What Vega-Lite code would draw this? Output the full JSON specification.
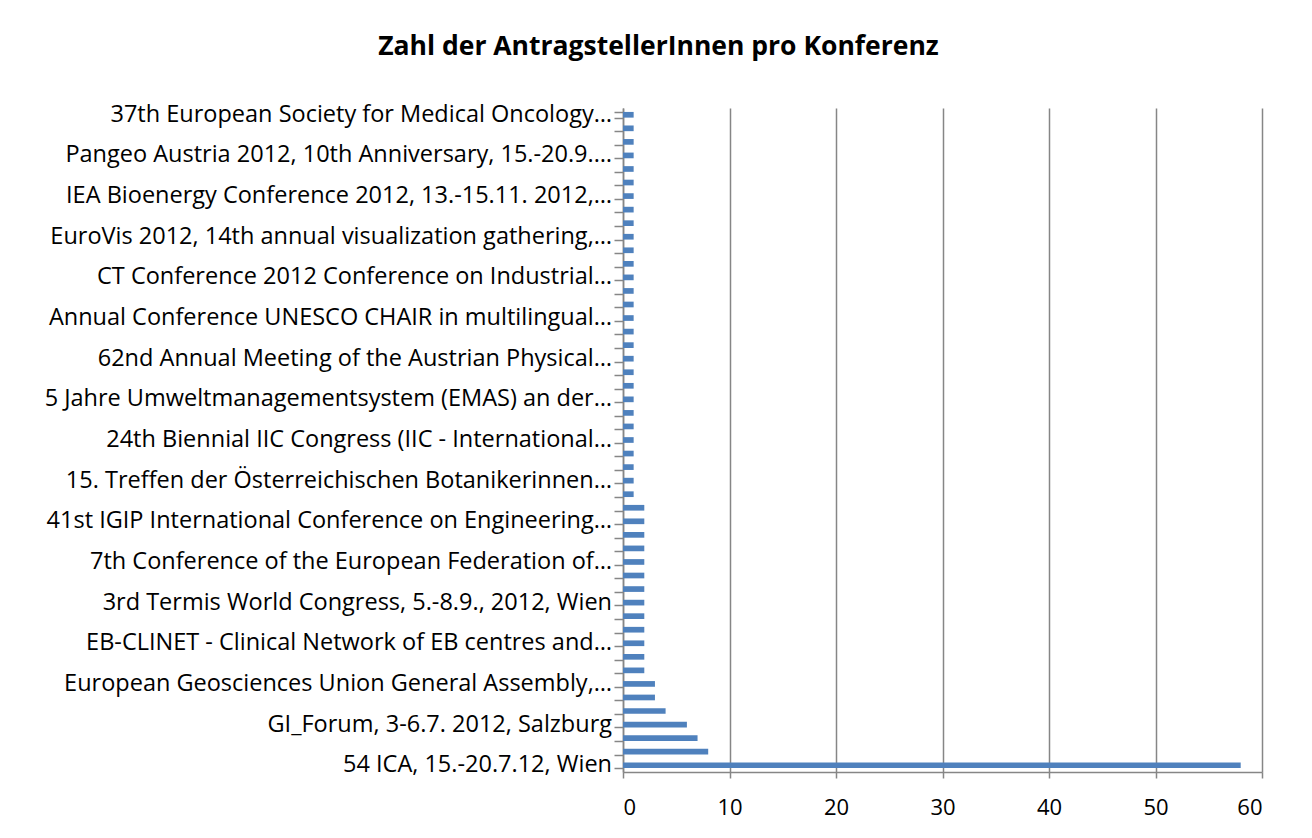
{
  "$schema": "https://vega.github.io/schema/vega-lite/v6.json",
  "width": 639,
  "height": 664,
  "autosize": {"type": "none"},
  "padding": {"left": 623, "top": 108, "right": 50, "bottom": 66},
  "background": "white",
  "title": {
    "text": "Zahl der AntragstellerInnen pro Konferenz",
    "font": "Open Sans",
    "fontSize": 26.5,
    "fontWeight": "bold",
    "color": "#000000",
    "anchor": "middle",
    "frame": "group",
    "dx": -284,
    "offset": 42
  },
  "config": {
    "view": {"stroke": null},
    "font": "Open Sans"
  },
  "data": {
    "values": [
      {"rang": 1, "konferenz": "54 ICA, 15.-20.7.12, Wien", "anzahl": 58},
      {"rang": 2, "konferenz": "", "anzahl": 8},
      {"rang": 3, "konferenz": "", "anzahl": 7},
      {"rang": 4, "konferenz": "GI_Forum, 3-6.7. 2012, Salzburg", "anzahl": 6},
      {"rang": 5, "konferenz": "", "anzahl": 4},
      {"rang": 6, "konferenz": "", "anzahl": 3},
      {"rang": 7, "konferenz": "European Geosciences Union General Assembly,…", "anzahl": 3},
      {"rang": 8, "konferenz": "", "anzahl": 2},
      {"rang": 9, "konferenz": "", "anzahl": 2},
      {"rang": 10, "konferenz": "EB-CLINET - Clinical Network of EB centres and…", "anzahl": 2},
      {"rang": 11, "konferenz": "", "anzahl": 2},
      {"rang": 12, "konferenz": "", "anzahl": 2},
      {"rang": 13, "konferenz": "3rd Termis World Congress, 5.-8.9., 2012, Wien", "anzahl": 2},
      {"rang": 14, "konferenz": "", "anzahl": 2},
      {"rang": 15, "konferenz": "", "anzahl": 2},
      {"rang": 16, "konferenz": "7th Conference of the European Federation of…", "anzahl": 2},
      {"rang": 17, "konferenz": "", "anzahl": 2},
      {"rang": 18, "konferenz": "", "anzahl": 2},
      {"rang": 19, "konferenz": "41st IGIP International Conference on Engineering…", "anzahl": 2},
      {"rang": 20, "konferenz": "", "anzahl": 2},
      {"rang": 21, "konferenz": "", "anzahl": 1},
      {"rang": 22, "konferenz": "15. Treffen  der Österreichischen Botanikerinnen…", "anzahl": 1},
      {"rang": 23, "konferenz": "", "anzahl": 1},
      {"rang": 24, "konferenz": "", "anzahl": 1},
      {"rang": 25, "konferenz": "24th Biennial IIC Congress (IIC - International…", "anzahl": 1},
      {"rang": 26, "konferenz": "", "anzahl": 1},
      {"rang": 27, "konferenz": "", "anzahl": 1},
      {"rang": 28, "konferenz": "5 Jahre Umweltmanagementsystem (EMAS) an der…", "anzahl": 1},
      {"rang": 29, "konferenz": "", "anzahl": 1},
      {"rang": 30, "konferenz": "", "anzahl": 1},
      {"rang": 31, "konferenz": "62nd Annual Meeting of the Austrian Physical…", "anzahl": 1},
      {"rang": 32, "konferenz": "", "anzahl": 1},
      {"rang": 33, "konferenz": "", "anzahl": 1},
      {"rang": 34, "konferenz": "Annual Conference  UNESCO CHAIR in multilingual…", "anzahl": 1},
      {"rang": 35, "konferenz": "", "anzahl": 1},
      {"rang": 36, "konferenz": "", "anzahl": 1},
      {"rang": 37, "konferenz": "CT Conference  2012 Conference on Industrial…", "anzahl": 1},
      {"rang": 38, "konferenz": "", "anzahl": 1},
      {"rang": 39, "konferenz": "", "anzahl": 1},
      {"rang": 40, "konferenz": "EuroVis 2012, 14th annual visualization gathering,…", "anzahl": 1},
      {"rang": 41, "konferenz": "", "anzahl": 1},
      {"rang": 42, "konferenz": "", "anzahl": 1},
      {"rang": 43, "konferenz": "IEA Bioenergy Conference 2012, 13.-15.11. 2012,…", "anzahl": 1},
      {"rang": 44, "konferenz": "", "anzahl": 1},
      {"rang": 45, "konferenz": "", "anzahl": 1},
      {"rang": 46, "konferenz": "Pangeo Austria 2012, 10th Anniversary, 15.-20.9.…", "anzahl": 1},
      {"rang": 47, "konferenz": "", "anzahl": 1},
      {"rang": 48, "konferenz": "", "anzahl": 1},
      {"rang": 49, "konferenz": "37th European Society for Medical Oncology…", "anzahl": 1}
    ]
  },
  "encoding": {
    "y": {
      "field": "rang",
      "type": "ordinal",
      "sort": "descending",
      "scale": {"paddingInner": 0.58, "paddingOuter": 0.29},
      "axis": {
        "title": null,
        "labels": false,
        "ticks": true,
        "tickBand": "extent",
        "tickSize": 9,
        "tickColor": "#868686",
        "tickWidth": 1.5,
        "domainColor": "#868686",
        "domainWidth": 1.5,
        "grid": false
      }
    }
  },
  "layer": [
    {
      "mark": {"type": "bar", "color": "#4F81BD"},
      "encoding": {
        "x": {
          "field": "anzahl",
          "type": "quantitative",
          "scale": {"domain": [0, 60], "nice": false},
          "axis": {
            "title": null,
            "values": [0, 10, 20, 30, 40, 50, 60],
            "grid": true,
            "gridColor": "#868686",
            "gridWidth": 1.5,
            "domainColor": "#868686",
            "domainWidth": 1.5,
            "tickColor": "#868686",
            "tickWidth": 1.5,
            "tickSize": 6,
            "labelFont": "Open Sans",
            "labelFontSize": 22,
            "labelColor": "#000000",
            "labelPadding": 19
          }
        }
      }
    },
    {
      "transform": [{"filter": "datum.konferenz != ''"}],
      "mark": {
        "type": "text",
        "align": "right",
        "baseline": "middle",
        "dx": -11,
        "font": "Open Sans",
        "fontSize": 23.5,
        "color": "#000000"
      },
      "encoding": {
        "x": {"datum": 0, "type": "quantitative"},
        "text": {"field": "konferenz"}
      }
    }
  ]
}
